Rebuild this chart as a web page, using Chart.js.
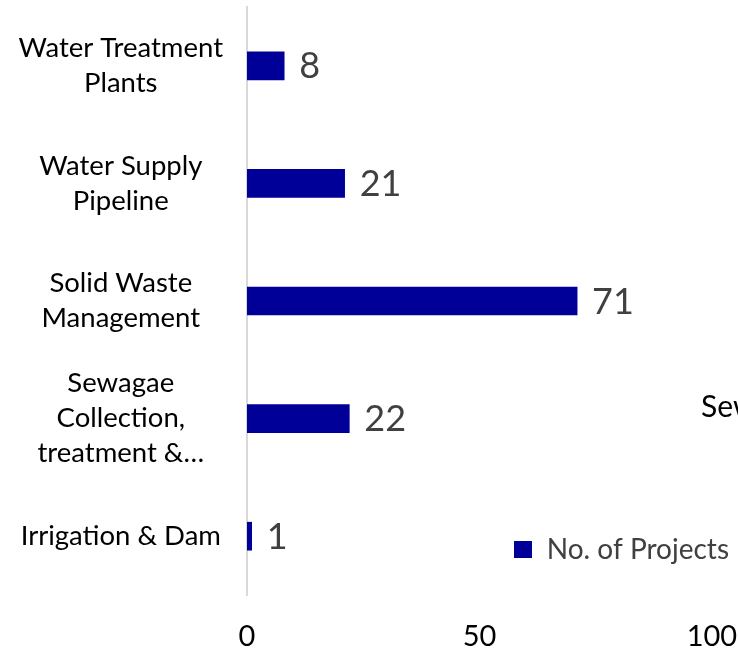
<!DOCTYPE html>
<html><head><meta charset="utf-8">
<script src="https://cdn.jsdelivr.net/npm/chart.js@4.4.1/dist/chart.umd.min.js"></script>
<style>html,body{margin:0;padding:0;background:#fff;overflow:hidden}canvas{display:block}</style>
</head><body>
<canvas id="c" width="738" height="649"></canvas>
<script>
// ---- data ----
const categories = [
  ["Water Treatment", "Plants"],
  ["Water Supply", "Pipeline"],
  ["Solid Waste", "Management"],
  ["Sewagae", "Collection,", "treatment &…"],
  ["Irrigation & Dam"]
];
const values = [8, 21, 71, 22, 1];
const seriesName = "No. of Projects";
const xTickValues = [0, 50, 100];
const clippedText = "Sewagae Collection";

// ---- styles ----
const FONT = "Lato";
const BAR = "#000099";

const valueLabels = {
  id: "valueLabels",
  afterDatasetsDraw(chart) {
    const ctx = chart.ctx;
    const meta = chart.getDatasetMeta(0);
    ctx.save();
    ctx.font = "36px " + FONT;
    ctx.fillStyle = "#404040";
    ctx.textAlign = "left";
    ctx.textBaseline = "middle";
    meta.data.forEach((bar, i) => {
      ctx.fillText(String(values[i]), bar.x + 15, bar.y + 1);
    });
    ctx.restore();
  }
};

const legendMover = {
  id: "legendMover",
  afterLayout(chart) {
    const lg = chart.legend;
    if (!lg) return;
    lg.left = 514;
    lg.right = 729;
    lg.top = 535.5;
    lg.bottom = lg.top + 30;
  }
};

const clippedLabel = {
  id: "clippedLabel",
  afterDraw(chart) {
    const ctx = chart.ctx;
    ctx.save();
    ctx.font = "30px " + FONT;
    ctx.fillStyle = "#000000";
    ctx.textAlign = "left";
    ctx.textBaseline = "alphabetic";
    ctx.fillText(clippedText, 701, 417);
    ctx.restore();
  }
};

new Chart(document.getElementById("c"), {
  type: "bar",
  data: {
    labels: categories,
    datasets: [{
      label: seriesName,
      data: values,
      backgroundColor: BAR,
      borderWidth: 0,
      barThickness: 28
    }]
  },
  options: {
    indexAxis: "y",
    responsive: false,
    animation: false,
    devicePixelRatio: 1,
    layout: { padding: { top: 7, left: 0, right: 0, bottom: 0 } },
    scales: {
      x: {
        type: "linear",
        min: 0,
        max: 105.6,
        afterBuildTicks(scale) {
          scale.ticks = xTickValues.map(v => ({ value: v }));
        },
        afterFit(scale) {
          scale.height = 54;
          scale.paddingLeft = 0;
          scale.paddingRight = 0;
        },
        ticks: {
          font: { family: FONT, size: 29 },
          color: "#000000",
          padding: 24,
          maxRotation: 0
        },
        grid: { display: false, drawTicks: false },
        border: { display: false }
      },
      y: {
        afterFit(scale) {
          scale.width = 247;
          scale.paddingTop = 0;
          scale.paddingBottom = 0;
        },
        ticks: {
          font: { family: FONT, size: 27.5, lineHeight: "35px" },
          color: "#000000",
          crossAlign: "center",
          padding: 24
        },
        grid: { display: false, drawTicks: false },
        border: { display: true, color: "#d9d9d9", width: 2 }
      }
    },
    plugins: {
      legend: {
        display: true,
        position: "chartArea",
        fullSize: false,
        align: "start",
        labels: {
          font: { family: FONT, size: 28 },
          color: "#404040",
          boxWidth: 18,
          boxHeight: 17,
          padding: 0,
          textAlign: "right"
        }
      },
      tooltip: { enabled: false }
    }
  },
  plugins: [valueLabels, legendMover, clippedLabel]
});
</script>
</body></html>
